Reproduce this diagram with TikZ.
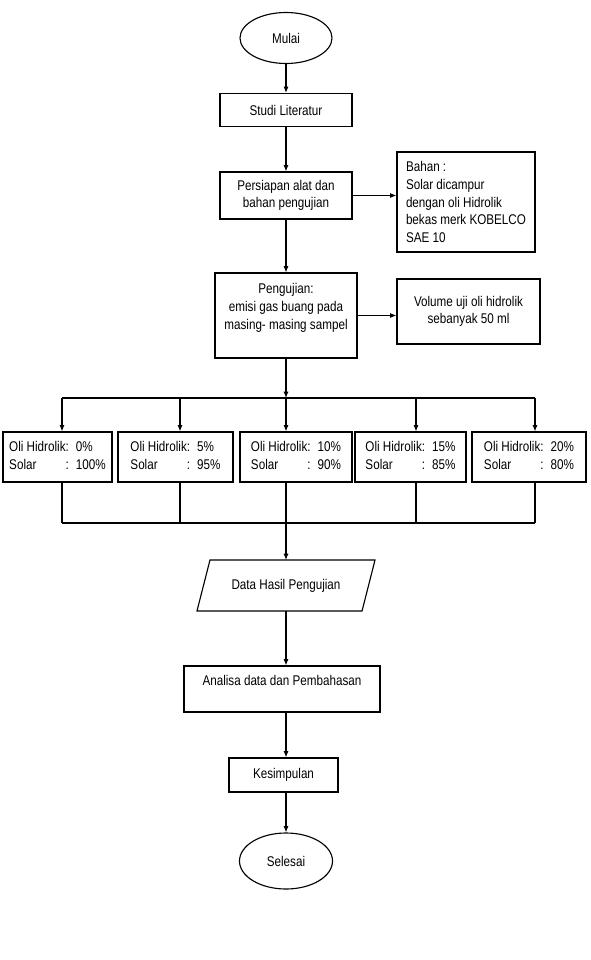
\documentclass[tikz,border=0pt]{standalone}
\usepackage{fontspec}
\setmainfont{Liberation Sans}[FakeStretch=0.83]
\usetikzlibrary{shapes,arrows,positioning,calc,arrows.meta}

\tikzset{
  proc/.style={draw, rectangle, align=center},
  term/.style={draw, ellipse},
  ratio/.style={draw, rectangle, minimum height=1.25cm},
}
% isi kotak campuran
\newcommand{\campuran}[2]{\begin{tabular}{@{}l@{\hspace{5pt}}l@{}}Oli Hidrolik: & #1\%\\ Solar\hfill: & #2\%\end{tabular}}

\begin{document}
\begin{tikzpicture}[x=0.025cm, y=-0.025cm, line width=0.8pt,
    font=\fontsize{10}{12.5}\selectfont, >={Latex[length=4.5pt,width=3.6pt]}]
    \useasboundingbox (0,0) rectangle (591,960);

    \node[term, minimum width=2.3cm, minimum height=1.275cm] (mulai) at (286,38) {Mulai};
    \node[proc, minimum width=3.3cm, minimum height=0.825cm] (studi) at (286,110) {Studi Literatur};
    \node[proc, minimum width=3.3cm, minimum height=1.175cm] (persiapan) at (286,195.5) {Persiapan alat dan\\bahan pengujian};
    \node[proc, align=left, minimum width=3.45cm, minimum height=2.5cm] (bahan) at (466,202)
        {Bahan :\\Solar dicampur\\dengan oli Hidrolik\\bekas merk KOBELCO\\SAE 10};
    \node[proc, align=flush center, text width=3.5cm, inner xsep=0.025cm, inner ysep=0pt, text height=14.9pt, text depth=45.5pt] (pengujian) at (286,315.5)
        {Pengujian:\\emisi gas buang pada\\masing- masing sampel};
    \node[proc, minimum width=3.575cm, minimum height=1.625cm] (volume) at (468.5,311.5) {Volume uji oli hidrolik\\sebanyak 50 ml};

    \draw[->] (mulai) -- (studi);
    \draw[->] (studi) -- (persiapan);
    \draw[->] (persiapan.east) -- (persiapan.east -| bahan.west);
    \draw[->] (persiapan) -- (pengujian);
    \draw[->] (pengujian.east) -- (pengujian.east -| volume.west);

    % percabangan sampel
    \coordinate (split) at (286,398);
    \coordinate (merge) at (286,523);
    \draw[->] (pengujian) -- (split);
    \foreach \name/\xc/\w/\oli/\sol/\dx in {b1/57.5/2.725/0/100/4.5, b2/175.5/2.875/5/95/4.5,
        b3/296/2.8/10/90/-10, b4/410.5/2.775/15/85/5.5, b5/529/2.85/20/80/6}{
        \node[ratio, minimum width=\w cm] (\name) at (\xc,457) {\campuran{\oli}{\sol}};
        \coordinate (\name-in) at ($(\name.north)+(\dx,0)$);
        \coordinate (\name-out) at ($(\name.south)+(\dx,0)$);
        \draw[->] (split -| \name-in) -- (\name-in);
        \draw (\name-out) -- (merge -| \name-out);
    }
    \draw (split -| b1-in) -- (split -| b5-in);
    \draw (merge -| b1-out) -- (merge -| b5-out);

    % data (jajaran genjang)
    \node[minimum width=4.125cm, minimum height=1.275cm, outer sep=0pt] (data) at (286,585.5) {Data Hasil Pengujian};
    \draw ($(data.north west)+(6.5,0)$) -- ($(data.north east)+(6.5,0)$)
        -- ($(data.south east)+(-6.5,0)$) -- ($(data.south west)+(-6.5,0)$) -- cycle;
    \node[proc, minimum width=4.9cm, inner ysep=0pt, text height=14.2pt, text depth=18.5pt] (analisa) at (282,689) {Analisa data dan Pembahasan};
    \node[proc, minimum width=2.725cm, minimum height=0.85cm] (kesimpulan) at (283.5,775) {Kesimpulan};
    \node[term, minimum width=2.325cm, minimum height=1.4cm] (selesai) at (286,861) {Selesai};

    \draw[->] (merge) -- (data);
    \draw[->] (data) -- (data |- analisa.north);
    \draw[->] (analisa.south -| mulai) -- (kesimpulan.north -| mulai);
    \draw[->] (kesimpulan.south -| mulai) -- (selesai);
\end{tikzpicture}
\end{document}
